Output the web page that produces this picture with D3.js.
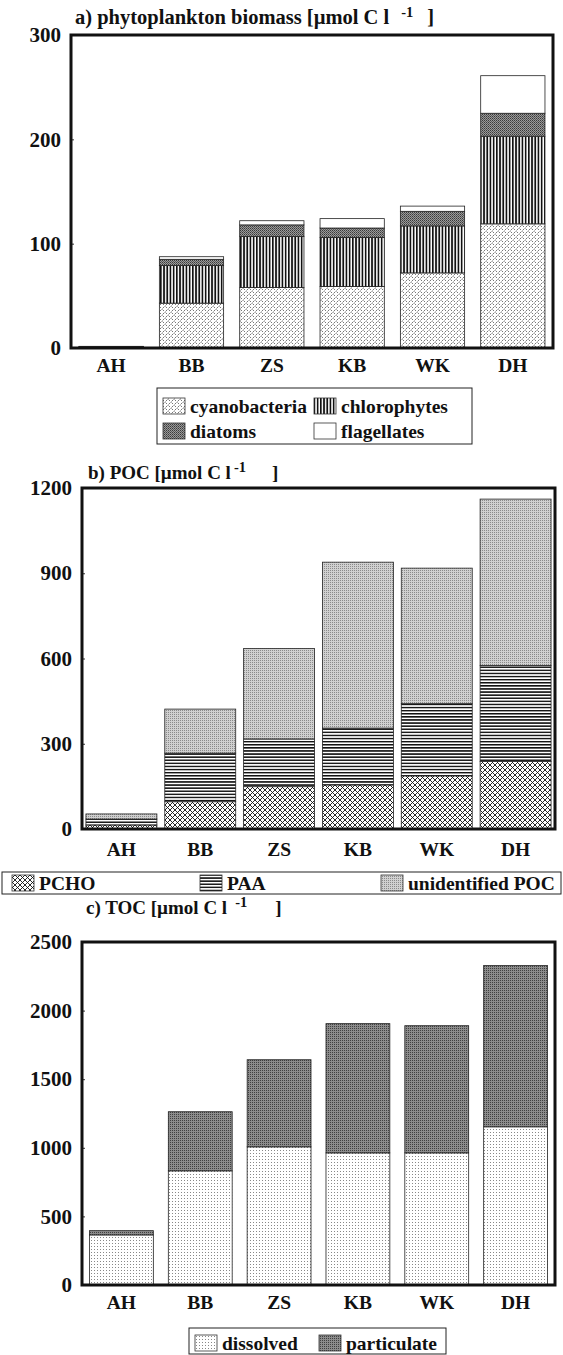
<!DOCTYPE html>
<html>
<head>
<meta charset="utf-8">
<script src="https://d3js.org/d3.v7.min.js"></script>
<style>
body { margin: 0; background: #fff; }
text { font-family: "Liberation Serif", "Times New Roman", serif; font-weight: bold; fill: #111; }
</style>
</head>
<body>
<div id="chart"></div>
<script>
///////////////////// Data ////////////////////////
var sites = ["AH", "BB", "ZS", "KB", "WK", "DH"];

// a) phytoplankton biomass [umol C l-1]
var cyanobacteria = [0.6, 43, 58, 59, 72, 119];
var chlorophytes  = [0.5, 36, 49, 47, 45, 84];
var diatoms       = [0.3, 6, 11, 9, 14, 22];
var flagellates   = [0.2, 2.5, 4, 9, 5, 36];

// b) POC [umol C l-1]
var pcho         = [14, 96, 149, 155, 187, 238];
var paa          = [21, 171, 168, 200, 254, 337];
var unidentified = [18, 155, 318, 584, 477, 586];

// c) TOC [umol C l-1]
var dissolved   = [365, 832, 1007, 963, 963, 1153];
var particulate = [31, 431, 635, 942, 927, 1175];

var ticksA = [0, 100, 200, 300];
var ticksB = [0, 300, 600, 900, 1200];
var ticksC = [0, 500, 1000, 1500, 2000, 2500];
//////////////////////////////////////////////////

var width = 563;
var height = 1355;

var svg = d3.select("#chart").append("svg")
    .attr("width", width)
    .attr("height", height);

/////////////// Fill patterns (scanned hatchings) ///////////////
var defs = svg.append("defs");

var makePattern = function(id, w, h, bg, draw) {
    var p = defs.append("pattern")
        .attr("id", id)
        .attr("patternUnits", "userSpaceOnUse")
        .attr("width", w)
        .attr("height", h);
    p.append("rect").attr("width", w).attr("height", h).attr("fill", bg);
    draw(p);
};

// cyanobacteria: little slanted dashes
makePattern("p-cyano", 6, 6, "#fff", function(p) {
    p.append("path").attr("d", "M0.5,2.5 L2.5,0.5 M3.5,5.5 L5.5,3.5 M3.5,0.5 L5,2 M0.5,3.5 L2,5")
        .attr("stroke", "#555").attr("stroke-width", 0.8);
});
// chlorophytes: vertical stripes
makePattern("p-chloro", 3.2, 4, "#fff", function(p) {
    p.append("rect").attr("width", 1.7).attr("height", 4).attr("fill", "#111");
});
// diatoms: dark stipple
makePattern("p-diatom", 2, 2, "#9a9a9a", function(p) {
    p.append("rect").attr("width", 1).attr("height", 1).attr("fill", "#3a3a3a");
    p.append("rect").attr("x", 1).attr("y", 1).attr("width", 1).attr("height", 1).attr("fill", "#5a5a5a");
});
// PCHO: diagonal crosshatch
makePattern("p-pcho", 5, 5, "#fff", function(p) {
    p.append("path").attr("d", "M0,0 L5,5 M5,0 L0,5")
        .attr("stroke", "#111").attr("stroke-width", 0.9);
});
// PAA: horizontal lines
makePattern("p-paa", 4, 3.1, "#fff", function(p) {
    p.append("rect").attr("width", 4).attr("height", 1.5).attr("fill", "#111");
});
// unidentified POC: light stipple
makePattern("p-unid", 2, 2, "#d0d0d0", function(p) {
    p.append("rect").attr("width", 1).attr("height", 1).attr("fill", "#8a8a8a");
});
// dissolved: dots on white
makePattern("p-diss", 3, 3, "#fff", function(p) {
    p.append("rect").attr("x", 1).attr("y", 1).attr("width", 1).attr("height", 1).attr("fill", "#888");
});
// particulate: dark stipple
makePattern("p-part", 2, 2, "#8c8c8c", function(p) {
    p.append("rect").attr("width", 1).attr("height", 1).attr("fill", "#404040");
});

/////////////// Panel configs ///////////////
var panels = [
    {
        left: 71, right: 553, top: 35, bottom: 348, padding: 0.2,
        max: 300, ticks: ticksA,
        series: [
            {name: "cyanobacteria", values: cyanobacteria, fill: "url(#p-cyano)"},
            {name: "chlorophytes", values: chlorophytes, fill: "url(#p-chloro)"},
            {name: "diatoms", values: diatoms, fill: "url(#p-diatom)"},
            {name: "flagellates", values: flagellates, fill: "#fff"}
        ],
        title: {x: 75, y: 24, size: 20.5, main: "a) phytoplankton biomass [\u00b5mol C l", gap: 12, closeGap: 14},
        labelY: 365
    },
    {
        left: 82, right: 555, top: 488, bottom: 829, padding: 0.1,
        max: 1200, ticks: ticksB,
        series: [
            {name: "PCHO", values: pcho, fill: "url(#p-pcho)"},
            {name: "PAA", values: paa, fill: "url(#p-paa)"},
            {name: "unidentified POC", values: unidentified, fill: "url(#p-unid)"}
        ],
        title: {x: 88, y: 479, size: 19, main: "b) POC [\u00b5mol C l", gap: 3, closeGap: 26},
        labelY: 849
    },
    {
        left: 82, right: 555, top: 942, bottom: 1285, padding: 0.19,
        max: 2500, ticks: ticksC,
        series: [
            {name: "dissolved", values: dissolved, fill: "url(#p-diss)"},
            {name: "particulate", values: particulate, fill: "url(#p-part)"}
        ],
        title: {x: 86, y: 914, size: 19, main: "c) TOC [\u00b5mol C l", gap: 8, closeGap: 28},
        labelY: 1302
    }
];

var drawPanel = function(cfg) {
    var g = svg.append("g");

    var x = d3.scaleBand()
        .domain(sites)
        .range([cfg.left, cfg.right])
        .paddingInner(cfg.padding)
        .paddingOuter(cfg.padding / 2);

    var y = d3.scaleLinear()
        .domain([0, cfg.max])
        .range([cfg.bottom, cfg.top]);

    // Build rows for the stack
    var keys = cfg.series.map(function(s) { return s.name; });
    var rows = sites.map(function(site, i) {
        var row = {site: site};
        cfg.series.forEach(function(s) { row[s.name] = s.values[i]; });
        return row;
    });
    var stacked = d3.stack().keys(keys)(rows);

    stacked.forEach(function(layer, li) {
        g.append("g").selectAll("rect")
            .data(layer)
            .enter().append("rect")
            .attr("x", function(d) { return x(d.data.site); })
            .attr("y", function(d) { return y(d[1]); })
            .attr("width", x.bandwidth())
            .attr("height", function(d) { return Math.max(0, y(d[0]) - y(d[1])); })
            .attr("fill", cfg.series[li].fill)
            .attr("stroke", "#222")
            .attr("stroke-width", 0.8);
    });

    // y axis
    var yAxis = d3.axisLeft(y)
        .tickValues(cfg.ticks)
        .tickFormat(d3.format("d"))
        .tickSizeInner(-3)
        .tickSizeOuter(0)
        .tickPadding(10);
    var ya = g.append("g")
        .attr("transform", "translate(" + cfg.left + ",0)")
        .call(yAxis);
    ya.select(".domain").remove();
    ya.selectAll("line").attr("stroke", "#333");
    ya.selectAll("text").attr("font-size", 21).attr("font-family", null).attr("fill", "#111");

    // x labels
    var xAxis = d3.axisBottom(x).tickSize(0).tickPadding(0);
    var xa = g.append("g")
        .attr("transform", "translate(0," + cfg.labelY + ")")
        .call(xAxis);
    xa.select(".domain").remove();
    xa.selectAll("text").attr("font-size", 19.5).attr("font-family", null)
        .attr("dy", "0.35em").attr("fill", "#111");

    // frame
    g.append("rect")
        .attr("x", cfg.left)
        .attr("y", cfg.top)
        .attr("width", cfg.right - cfg.left)
        .attr("height", cfg.bottom - cfg.top)
        .attr("fill", "none")
        .attr("stroke", "#111")
        .attr("stroke-width", 3);

    // title with superscript, placed after the measured main text
    var tt = cfg.title;
    var t = g.append("text")
        .attr("x", tt.x)
        .attr("y", tt.y)
        .attr("font-size", tt.size);
    var main = t.append("tspan").text(tt.main);
    var mainLen = main.node().getComputedTextLength();
    var sup = t.append("tspan")
        .attr("x", tt.x + mainLen + tt.gap)
        .attr("dy", -7)
        .attr("font-size", 14.5)
        .text("-1");
    var supLen = sup.node().getComputedTextLength();
    t.append("tspan")
        .attr("x", tt.x + mainLen + tt.gap + supLen + tt.closeGap)
        .attr("dy", 7)
        .text("]");
};

panels.forEach(drawPanel);

/////////////// Legends ///////////////
var drawLegend = function(box, items) {
    var g = svg.append("g");
    g.append("rect")
        .attr("x", box.x).attr("y", box.y)
        .attr("width", box.w).attr("height", box.h)
        .attr("fill", "#fff").attr("stroke", "#222").attr("stroke-width", 1);
    items.forEach(function(it) {
        g.append("rect")
            .attr("x", it.x).attr("y", it.y - 8)
            .attr("width", 22).attr("height", 16)
            .attr("fill", it.fill).attr("stroke", "#333").attr("stroke-width", 0.8);
        g.append("text")
            .attr("x", it.x + 27).attr("y", it.y)
            .attr("dy", "0.35em")
            .attr("font-size", 19.5)
            .text(it.name);
    });
};

var sA = panels[0].series, sB = panels[1].series, sC = panels[2].series;
drawLegend({x: 157, y: 388, w: 315, h: 56}, [
    {name: sA[0].name, fill: sA[0].fill, x: 163, y: 406},
    {name: sA[1].name, fill: sA[1].fill, x: 314, y: 406},
    {name: sA[2].name, fill: sA[2].fill, x: 163, y: 431},
    {name: sA[3].name, fill: sA[3].fill, x: 314, y: 431}
]);
drawLegend({x: 2, y: 872, w: 559, h: 22}, [
    {name: sB[0].name, fill: sB[0].fill, x: 12, y: 883},
    {name: sB[1].name, fill: sB[1].fill, x: 200, y: 883},
    {name: sB[2].name, fill: sB[2].fill, x: 381, y: 883}
]);
drawLegend({x: 189, y: 1328, w: 257, h: 26}, [
    {name: sC[0].name, fill: sC[0].fill, x: 195, y: 1343},
    {name: sC[1].name, fill: sC[1].fill, x: 319, y: 1343}
]);
</script>
</body>
</html>
